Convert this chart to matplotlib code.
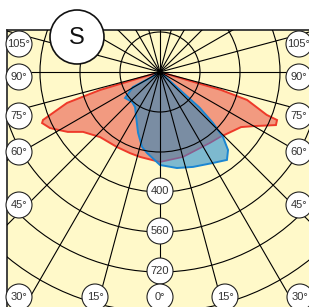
import numpy as np
import matplotlib.pyplot as plt
from matplotlib.patches import Circle, Polygon

plt.rcParams['font.family'] = ['Liberation Sans', 'DejaVu Sans']

# angle from nadir in degrees (negative = left half), intensity in diagram units
red_angles = [-73.6, -73.4, -73.3, -71.6, -67.7, -66.6, -63.0, -57.0, -52.1, -42.7, -29.8,
              -20.3, -13.2, 0.0, 15.1, 35.2, 42.7, 55.8, 60.1, 65.4, 67.7, 68.1,
              72.2, 73.6, 73.5, 73.0]
red_cd = [0, 84, 250, 392, 506, 514, 494, 440, 390, 354, 346,
          346, 349, 360, 352, 347, 354, 392, 434, 510, 506, 460,
          366, 254, 113, 0]

blue_angles = [-59.0, -59.0, -61.0, -53.4, -43.0, -35.5, -27.5, -19.8, -13.5, -9.1,
               0.0, 10.0, 19.2, 30.2, 37.3, 41.1, 44.1, 46.1, 48.0, 48.0]
blue_cd = [0, 47, 124, 174, 164, 172, 206, 259, 308, 328,
           372, 390, 402, 421, 442, 414, 362, 294, 212, 80]

ring_cd = [160, 320, 480, 640, 800, 960]
ring_text = ['', '', '400', '560', '720', '']
spoke_step = 15

side_text = ['105°', '90°', '75°', '60°', '45°']
bottom_text = ['30°', '15°', '0°', '15°', '30°']

PX = 4  # diagram units per pixel


def to_xy(ang, val):
    a = np.radians(ang)
    v = np.asarray(val, float)
    return np.column_stack([v * np.sin(a), -v * np.cos(a)])


fig = plt.figure(figsize=(3.09, 3.07), dpi=100)
# frame starts at x=7, y=30 and runs past the right and bottom edges
ax = fig.add_axes([7 / 309, -3 / 307, 305 / 309, 280 / 307])
ax.set_xlim(-153 * PX, 152 * PX)
ax.set_ylim(-238 * PX, 42 * PX)
ax.set_facecolor('#fff9c9')
ax.set_xticks([])
ax.set_yticks([])
for s in ax.spines.values():
    s.set_color('#333333')
    s.set_linewidth(1.3)

# curves
red = Polygon(to_xy(red_angles, red_cd), closed=True, fc='#f29a80', ec='#ee3a2a',
              lw=1.4, zorder=1)
ax.add_patch(red)
blue_pts = to_xy(blue_angles, blue_cd)
ax.add_patch(Polygon(blue_pts, closed=True, fc='#7db9cf', ec='none', zorder=1.5))
slate = Polygon(blue_pts, closed=True, fc='#7a8da3', ec='none', zorder=1.6)
ax.add_patch(slate)
slate.set_clip_path(red)
red_seen = Polygon(to_xy(red_angles, red_cd), closed=True, fill=False, ec='#8a5e8e',
                   lw=1.2, zorder=1.7)
ax.add_patch(red_seen)
red_seen.set_clip_path(Polygon(blue_pts, closed=True, transform=ax.transData))
ax.add_patch(Polygon(blue_pts, closed=True, fill=False, ec='#1b86d2', lw=1.4, zorder=1.8))

# grid
for a in range(0, 360, spoke_step):
    p = to_xy([a, a], [0, 1400])
    ax.plot(p[:, 0], p[:, 1], color='black', lw=0.8, zorder=3)
for r in ring_cd:
    ax.add_patch(Circle((0, 0), r, fill=False, ec='black', lw=0.8, zorder=3))


def badge(x, y, text):
    ax.add_patch(Circle((x, y), 13 * PX, fc='white', ec='#222222', lw=0.8,
                        zorder=5, clip_on=False))
    ax.text(x, y, text, ha='center', va='center', fontsize=8, color='#333333',
            zorder=6, clip_on=False)


for r, t in zip(ring_cd, ring_text):
    if t:
        badge(0, -r + 1 * PX, t)

side_y = [28, -5, -44, -80, -133]
for t, y in zip(side_text, side_y):
    badge(-141 * PX, y * PX, t)
    badge(139 * PX, y * PX, t)

bottom_x = [-141, -65, 0, 65, 140]
for t, x in zip(bottom_text, bottom_x):
    badge(x * PX, -225 * PX, t)

# plane badge
ax.add_patch(Circle((-83 * PX, 35 * PX), 27 * PX, fc='white', ec='#111111', lw=1.2,
                    zorder=7, clip_on=False))
ax.text(-83 * PX, 34 * PX, 'S', ha='center', va='center', fontsize=17, color='#111111',
        zorder=8, clip_on=False)

fig.savefig('out.png', dpi=100)
